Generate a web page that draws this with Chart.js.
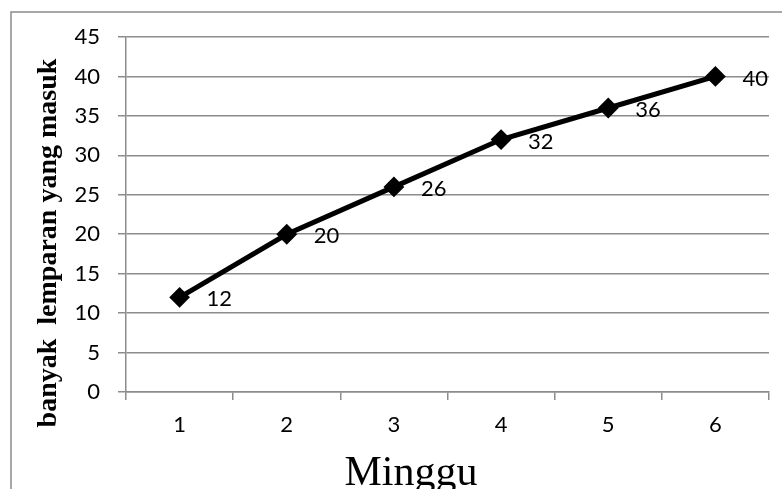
<html>

<head>
    <title>Minggu</title>
    <script src="https://cdn.jsdelivr.net/npm/chart.js@4"></script>
    <style>
        body { margin: 0; background: #fff; }
        #wrap { width: 782px; height: 489px; }
    </style>
</head>

<body>
    <div id="wrap"><canvas id="plotCanvas"></canvas></div>

    <script>
        const weeks = ['1', '2', '3', '4', '5', '6']
        const throwsIn = [12, 20, 26, 32, 36, 40]
        const yTitle = 'banyak  lemparan yang masuk'
        const xTitle = 'Minggu'

        const tickFont = { family: 'Lato', size: 22 }
        const gridGrey = '#8c8c8c'

        // frame around the chart plus the two axis titles
        const decor = {
            id: 'decor',
            beforeDraw(chart) {
                const ctx = chart.ctx
                ctx.save()
                ctx.fillStyle = '#fff'
                ctx.fillRect(0, 0, chart.width, chart.height)
                ctx.strokeStyle = '#8c8c8c'
                ctx.lineWidth = 1.5
                ctx.beginPath()
                ctx.moveTo(11, chart.height)
                ctx.lineTo(11, 12)
                ctx.lineTo(chart.width, 12)
                ctx.stroke()
                ctx.restore()
            },
            afterDraw(chart) {
                const ctx = chart.ctx
                ctx.save()
                ctx.fillStyle = '#000'
                ctx.textAlign = 'center'
                ctx.textBaseline = 'middle'
                ctx.translate(49, 243)
                ctx.rotate(-Math.PI / 2)
                ctx.font = 'bold 28px "Liberation Serif"'
                ctx.fillText(yTitle, 0, 0)
                ctx.restore()

                ctx.save()
                ctx.fillStyle = '#000'
                ctx.textAlign = 'center'
                ctx.textBaseline = 'alphabetic'
                ctx.font = '42px "Liberation Serif"'
                ctx.fillText(xTitle, 411, 485)
                ctx.restore()
            },
        }

        // value labels to the right of each marker
        const valueLabels = {
            id: 'valueLabels',
            afterDatasetsDraw(chart) {
                const ctx = chart.ctx
                const meta = chart.getDatasetMeta(0)
                ctx.save()
                ctx.fillStyle = '#000'
                ctx.font = `${tickFont.size}px ${tickFont.family}`
                ctx.textAlign = 'left'
                ctx.textBaseline = 'middle'
                meta.data.forEach((pt, i) => {
                    ctx.fillText(String(throwsIn[i]), pt.x + 27, pt.y + 2)
                })
                ctx.restore()
            },
        }

        const chart = new Chart(document.getElementById('plotCanvas'), {
            type: 'line',
            data: {
                labels: weeks,
                datasets: [
                    {
                        data: throwsIn,
                        borderColor: '#000',
                        borderWidth: 5,
                        backgroundColor: '#000',
                        pointStyle: 'rectRot',
                        pointRadius: 9,
                        pointBorderWidth: 2,
                        pointBackgroundColor: '#000',
                        pointBorderColor: '#000',
                        tension: 0,
                    },
                ],
            },
            plugins: [decor, valueLabels],
            options: {
                responsive: true,
                maintainAspectRatio: false,
                animation: false,
                layout: { padding: { top: 37, right: 13, left: 0, bottom: 0 } },
                plugins: {
                    legend: { display: false },
                    tooltip: { enabled: false },
                },
                scales: {
                    x: {
                        offset: true,
                        afterFit: s => { s.height = 97 },
                        grid: {
                            offset: true,
                            drawOnChartArea: false,
                            drawTicks: true,
                            tickLength: 8,
                            color: gridGrey,
                            lineWidth: 1.5,
                        },
                        border: { color: gridGrey, width: 1.5 },
                        ticks: { color: '#000', font: tickFont, padding: 12 },
                    },
                    y: {
                        min: 0,
                        max: 45,
                        afterFit: s => { s.width = 126 },
                        grid: {
                            tickLength: 8,
                            color: gridGrey,
                            lineWidth: 1.5,
                        },
                        border: { color: gridGrey, width: 1.5 },
                        ticks: { stepSize: 5, color: '#000', font: tickFont, padding: 18 },
                    },
                },
            },
        })
    </script>
</body>

</html>
